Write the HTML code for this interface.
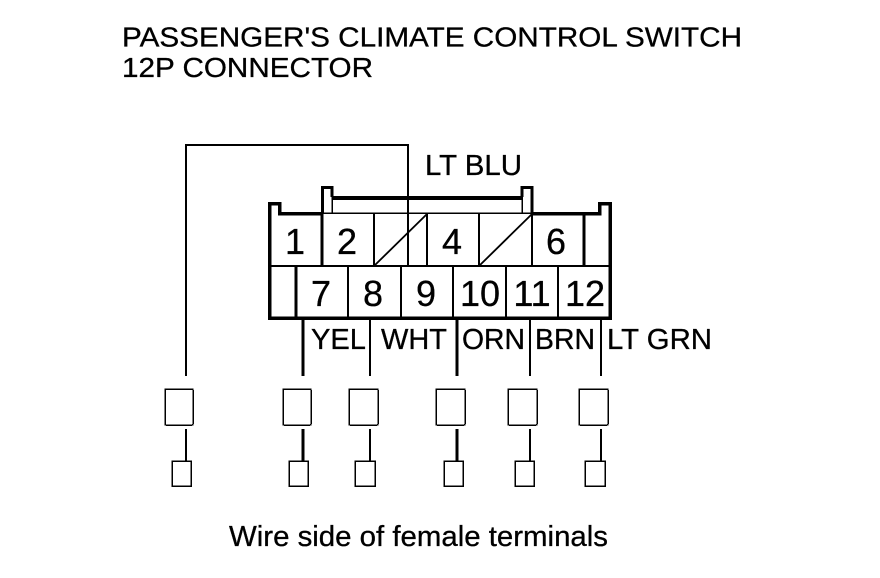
<!DOCTYPE html>
<html><head><meta charset="utf-8"><style>
html,body{margin:0;padding:0;background:#fff}
svg{display:block}
text{font-family:"Liberation Sans",sans-serif;fill:#000;stroke:#000;stroke-width:.3px}
.t{font-size:28px}.l{font-size:29px}.d{font-size:36px;text-anchor:middle}
</style></head><body>
<svg width="880" height="578" viewBox="0 0 880 578" xmlns="http://www.w3.org/2000/svg">
<rect width="880" height="578" fill="#fff"/>
<text class="t" x="122" y="46.500" textLength="620" lengthAdjust="spacingAndGlyphs">PASSENGER'S CLIMATE CONTROL SWITCH</text>
<text class="t" x="122" y="77" textLength="251" lengthAdjust="spacingAndGlyphs">12P CONNECTOR</text>
<text class="l" x="425" y="175" textLength="97" lengthAdjust="spacingAndGlyphs">LT BLU</text>
<g fill="none" stroke="#000" shape-rendering="crispEdges">
<path d="M186 376V145H408V266" stroke-width="2"/>
<path d="M269.500 320V203.500H279.500V213.500H322M532 213.500H599.500V203.500H610V320M268 318H612" stroke-width="3.500"/>
<path d="M322 213H532" stroke-width="1.500"/>
<path d="M322.500 214V187.500H332V197M532 214V187.500H522V197" stroke-width="3"/>
<path d="M332 197V213M522 197V213" stroke-width="1.500"/>
<path d="M332 198H522" stroke-width="4"/>
<path d="M271 266H609" stroke-width="2"/>
<path d="M322 214V266M584 214V266M296 266V318" stroke-width="3"/>
<path d="M374 214V266M427 214V266M479 214V266M532 214V266M348 266V318M401 266V318M453 266V318M506 266V318M558 266V318" stroke-width="2"/>
<path d="M303 319V376M457 319V376M303 429V461M457 429V461" stroke-width="3"/>
<path d="M370 319V376M530 319V376M601 319V376M186 429V461M370 429V461M530 429V461M601 429V461" stroke-width="2"/>
</g>
<path d="M374 266L427 214M479 266L532 214" fill="none" stroke="#000" stroke-width="1.800"/>
<g fill="none" stroke="#000" stroke-width="1.500" shape-rendering="crispEdges">
<rect x="165" y="389" width="28" height="36" rx="1"/>
<rect x="283" y="389" width="28" height="36" rx="1"/>
<rect x="349" y="389" width="29" height="36" rx="1"/>
<rect x="436" y="389" width="29" height="36" rx="1"/>
<rect x="508" y="389" width="29" height="36" rx="1"/>
<rect x="579" y="389" width="29" height="36" rx="1"/>
<rect x="172" y="461" width="19" height="25"/>
<rect x="289" y="461" width="19" height="25"/>
<rect x="355" y="461" width="20" height="25"/>
<rect x="444" y="461" width="19" height="25"/>
<rect x="515" y="461" width="19" height="25"/>
<rect x="585" y="461" width="20" height="25"/>
</g>
<text class="d" x="295" y="254">1</text>
<text class="d" x="347" y="254">2</text>
<text class="d" x="452" y="254">4</text>
<text class="d" x="556" y="254">6</text>
<text class="d" x="321" y="306">7</text>
<text class="d" x="373" y="306">8</text>
<text class="d" x="426" y="306">9</text>
<text class="d" x="480" y="306">10</text>
<text class="d" x="532" y="306">11</text>
<text class="d" x="585" y="306">12</text>
<text class="l" x="311" y="349" textLength="55" lengthAdjust="spacingAndGlyphs">YEL</text>
<text class="l" x="381" y="349" textLength="66" lengthAdjust="spacingAndGlyphs">WHT</text>
<text class="l" x="462" y="349" textLength="63" lengthAdjust="spacingAndGlyphs">ORN</text>
<text class="l" x="535" y="349" textLength="60" lengthAdjust="spacingAndGlyphs">BRN</text>
<text class="l" x="607" y="349" textLength="105" lengthAdjust="spacingAndGlyphs">LT GRN</text>
<text class="l" x="229" y="546" textLength="379" lengthAdjust="spacingAndGlyphs">Wire side of female terminals</text>
</svg>
</body></html>
